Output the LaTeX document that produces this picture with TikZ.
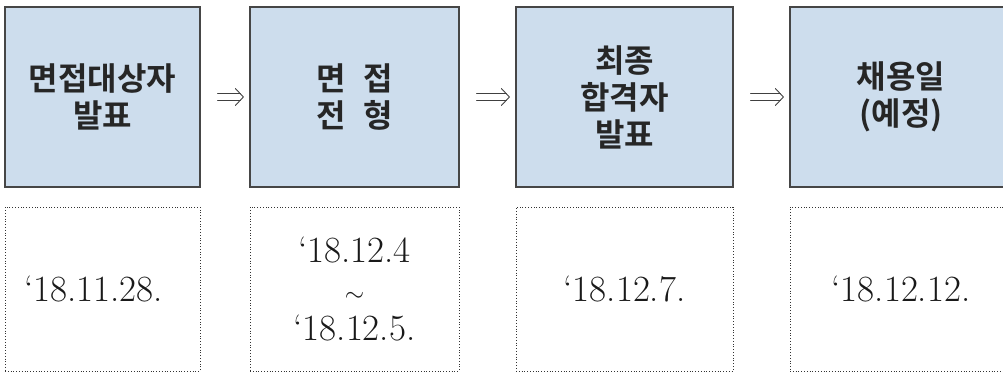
\documentclass[tikz,border=0pt]{standalone}
\usepackage{fontspec}
\newfontfamily\krfont{Noto Sans CJK KR}[BoldFont=* Bold]
\definecolor{stepfill}{RGB}{205,221,237}
\definecolor{stepline}{RGB}{70,70,70}
\newcommand{\wsp}{\hspace{0.55em}}
\tikzset{
  stagebox/.style={draw=stepline, line width=1.3pt, fill=stepfill, minimum height=180pt,
    inner sep=0pt, align=center, text=black!85,
    font=\krfont\bfseries\fontsize{32}{37}\selectfont},
  datebox/.style={draw=black!80, dotted, line width=0.8pt, minimum height=164pt,
    inner sep=0pt, align=center, text=black!90,
    font=\fontsize{37}{39}\selectfont},
  nextline/.style={draw=black!75, line width=0.9pt, line cap=round, line join=miter}
}

\begin{document}
\begin{tikzpicture}[x=1pt,y=1pt]
    \useasboundingbox (0,0) rectangle (1003,372);
    \node[stagebox, minimum width=195pt] (s1) at (102.5,275) {면접대상자\\발표};
    \node[stagebox, minimum width=209pt] (s2) at (354.5,275) {면\wsp 접\\전\wsp 형};
    \node[stagebox, minimum width=217pt] (s3) at (624.5,275) {최종\\합격자\\발표};
    \node[stagebox, minimum width=222pt] (s4) at (901,275) {채용일\\(예정)};
    \node[datebox, minimum width=195pt] (d1) at (102.5,83) {`18.11.28.\hspace*{18pt}};
    \node[datebox, minimum width=209pt] (d2) at (354.5,83) {`18.12.4\\$\sim$\\`18.12.5.};
    \node[datebox, minimum width=217pt] (d3) at (624.5,83) {`18.12.7.};
    \node[datebox, minimum width=222pt] (d4) at (901,83) {`18.12.12.};
    % double arrows between the stages
    \foreach \a/\b in {s1/s2,s2/s3,s3/s4} {
      \draw[nextline] ([xshift=17pt,yshift=3.5pt]\a.east) -- ([xshift=-9pt,yshift=3.5pt]\b.west);
      \draw[nextline] ([xshift=17pt,yshift=-3.5pt]\a.east) -- ([xshift=-9pt,yshift=-3.5pt]\b.west);
      \draw[nextline] ([xshift=-14pt,yshift=8.5pt]\b.west) -- ([xshift=-6pt]\b.west) -- ([xshift=-14pt,yshift=-8.5pt]\b.west);
    }
\end{tikzpicture}
\end{document}
